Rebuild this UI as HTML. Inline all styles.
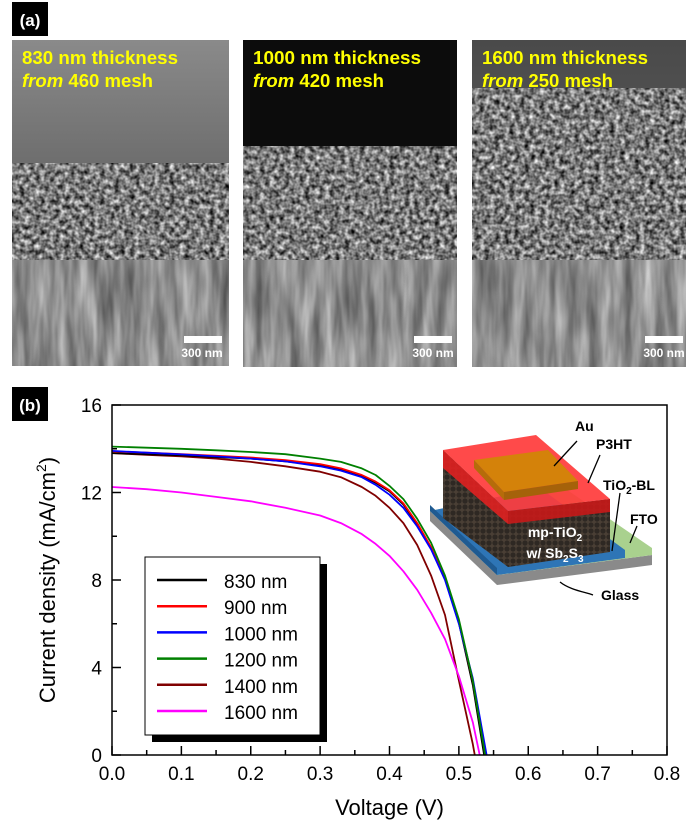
<!DOCTYPE html>
<html><head><meta charset="utf-8">
<style>
html,body{margin:0;padding:0;background:#fff;}
body{width:700px;height:840px;position:relative;overflow:hidden;font-family:"Liberation Sans",Arial,sans-serif;}
svg{position:absolute;left:0;top:0;}
</style></head>
<body>
<svg width="700" height="840" viewBox="0 0 700 840">
<defs>
  <filter id="grain" x="0" y="0" width="100%" height="100%" color-interpolation-filters="sRGB">
    <feTurbulence type="fractalNoise" baseFrequency="0.2" numOctaves="2" seed="3"/>
    <feColorMatrix type="matrix" values="1.3 0 0 0 -0.17  1.3 0 0 0 -0.17  1.3 0 0 0 -0.17  0 0 0 0 1"/>
  </filter>
  <filter id="streak" x="0" y="0" width="100%" height="100%" color-interpolation-filters="sRGB">
    <feTurbulence type="fractalNoise" baseFrequency="0.09 0.012" numOctaves="3" seed="7"/>
    <feColorMatrix type="matrix" values="0.6 0 0 0 0.25  0.6 0 0 0 0.25  0.6 0 0 0 0.25  0 0 0 0 1"/>
  </filter>
  <linearGradient id="sky1" x1="0" y1="0" x2="0" y2="1"><stop offset="0" stop-color="#8a8a8a"/><stop offset="1" stop-color="#404040"/></linearGradient>
  <linearGradient id="sky3" x1="0" y1="0" x2="0" y2="1"><stop offset="0" stop-color="#4a4a4a"/><stop offset="1" stop-color="#6a6a6a"/></linearGradient>
  <clipPath id="cp1"><rect x="12" y="40" width="217" height="326"/></clipPath>
  <clipPath id="cp2"><rect x="243" y="40" width="214" height="327"/></clipPath>
  <clipPath id="cp3"><rect x="472" y="40" width="214" height="327"/></clipPath>
  <pattern id="dots" width="6" height="6" patternUnits="userSpaceOnUse"><rect width="6" height="6" fill="#4a3f35"/><circle cx="3" cy="3" r="2.6" fill="#2e2823"/></pattern>
</defs>

<rect x="12" y="2" width="36" height="34" fill="#000"/>
<text x="30" y="26" fill="#fff" font-size="17" font-weight="bold" text-anchor="middle">(a)</text>

<g clip-path="url(#cp1)">
  <rect x="12" y="40" width="217" height="326" fill="url(#sky1)"/>
  <rect x="12" y="163" width="217" height="98" fill="#777" filter="url(#grain)"/>
  <rect x="12" y="260" width="217" height="106" fill="#888" filter="url(#streak)"/>
</g>
<g clip-path="url(#cp2)">
  <rect x="243" y="40" width="214" height="327" fill="#0c0c0c"/>
  <rect x="243" y="146" width="214" height="115" fill="#777" filter="url(#grain)"/>
  <rect x="243" y="260" width="214" height="107" fill="#888" filter="url(#streak)"/>
</g>
<g clip-path="url(#cp3)">
  <rect x="472" y="40" width="214" height="327" fill="url(#sky3)"/>
  <rect x="472" y="88" width="214" height="173" fill="#777" filter="url(#grain)"/>
  <rect x="472" y="260" width="214" height="107" fill="#888" filter="url(#streak)"/>
</g>

<g font-weight="bold" font-size="18" fill="#ffff00">
  <text x="22" y="64" textLength="156" lengthAdjust="spacingAndGlyphs">830 nm thickness</text>
  <text x="22" y="87" textLength="131" lengthAdjust="spacingAndGlyphs"><tspan font-style="italic">from</tspan> 460 mesh</text>
  <text x="253" y="64" textLength="168" lengthAdjust="spacingAndGlyphs">1000 nm thickness</text>
  <text x="253" y="87" textLength="131" lengthAdjust="spacingAndGlyphs"><tspan font-style="italic">from</tspan> 420 mesh</text>
  <text x="482" y="64" textLength="166" lengthAdjust="spacingAndGlyphs">1600 nm thickness</text>
  <text x="482" y="87" textLength="131" lengthAdjust="spacingAndGlyphs"><tspan font-style="italic">from</tspan> 250 mesh</text>
</g>
<g fill="#fff" font-size="12" font-weight="bold">
  <rect x="184" y="336" width="38" height="7"/><text x="202" y="357" text-anchor="middle">300 nm</text>
  <rect x="414" y="336" width="38" height="7"/><text x="433" y="357" text-anchor="middle">300 nm</text>
  <rect x="645" y="336" width="38" height="7"/><text x="664" y="357" text-anchor="middle">300 nm</text>
</g>

<rect x="12" y="387" width="36" height="34" fill="#000"/>
<text x="30" y="411" fill="#fff" font-size="17" font-weight="bold" text-anchor="middle">(b)</text>

<g id="chart"></g>

<g>
  <polygon points="430,521 497,585 652,565 652,555 497,575 430,511" fill="#8a8a8a"/>
  <polygon points="430,511 560,485 652,548 652,555 497,575" fill="#a9d18e"/>
  <polygon points="430,511 540,488 625,550 625,558 520,572 497,575" fill="#2e75b6"/>
  <polygon points="430,511 497,575 497,568 430,505" fill="#1f5a91"/>
  <polygon points="443,450 443,518 508,567 508,511" fill="url(#dots)"/>
  <polygon points="508,511 508,567 610,552 610,499" fill="url(#dots)"/>
  <polygon points="443,450 443,468 508,524 508,511" fill="#e02020" opacity="0.9"/>
  <polygon points="508,511 508,524 610,512 610,499" fill="#c81818" opacity="0.9"/>
  <polygon points="443,450 536,435 610,499 508,511" fill="#ff3b3b" opacity="0.92"/>
  <polygon points="474,460 548,450 578,481 504,492" fill="#d4820a"/>
  <polygon points="504,492 578,481 578,489 504,500" fill="#a5620a"/>
  <polygon points="474,460 504,492 504,500 474,468" fill="#b56c0a"/>
  <g fill="#fff" font-weight="bold" font-size="14" text-anchor="middle">
    <text x="555" y="537">mp-TiO<tspan font-size="10" dy="4">2</tspan></text>
    <text x="555" y="558">w/ Sb<tspan font-size="10" dy="4">2</tspan><tspan dy="-4">S</tspan><tspan font-size="10" dy="4">3</tspan></text>
  </g>
  <g stroke="#000" stroke-width="1.3" fill="none">
    <path d="M554,466 L577,441"/><path d="M588,483 L600,455"/><path d="M612,551 L620,493"/><path d="M630,543 L637,526"/><path d="M560,582 C570,590 585,592 593,595"/>
  </g>
  <g font-weight="bold" font-size="14" fill="#000">
    <text x="575" y="431">Au</text>
    <text x="596" y="449">P3HT</text>
    <text x="603" y="490">TiO<tspan font-size="10" dy="4">2</tspan><tspan dy="-4">-BL</tspan></text>
    <text x="630" y="524">FTO</text>
    <text x="601" y="600">Glass</text>
  </g>
</g>
</svg>

<script>
const xTicks=[0,0.1,0.2,0.3,0.4,0.5,0.6,0.7,0.8];
const yTicks=[0,4,8,12,16];
const seriesNames=["830 nm","900 nm","1000 nm","1200 nm","1400 nm","1600 nm"];
const seriesColors=["#000000","#ff0000","#0000ff","#008000","#800000","#ff00ff"];
const voltage=[0,0.05,0.1,0.15,0.2,0.25,0.3,0.33,0.36,0.38,0.4,0.42,0.44,0.46,0.48,0.5,0.52,0.54];
const j830=[13.8,13.75,13.7,13.62,13.55,13.42,13.25,13.05,12.75,12.45,12.05,11.45,10.55,9.45,8.05,6.05,3.2,-0.7];
const j900=[13.88,13.82,13.75,13.68,13.6,13.48,13.3,13.1,12.8,12.5,12.1,11.5,10.6,9.5,8.1,6.1,3.4,-0.3];
const j1000=[13.9,13.82,13.74,13.65,13.55,13.42,13.2,13.0,12.7,12.35,11.9,11.3,10.45,9.4,8.0,6.0,3.5,0];
const j1200=[14.1,14.05,14.0,13.93,13.85,13.75,13.55,13.4,13.1,12.8,12.3,11.7,10.8,9.7,8.2,6.2,3.4,-0.4];
const j1400=[13.8,13.72,13.65,13.55,13.4,13.2,12.95,12.7,12.25,11.85,11.3,10.6,9.6,8.2,6.4,3.4,0.5,-3];
const j1600=[12.25,12.15,12.0,11.8,11.6,11.3,10.95,10.6,10.1,9.65,9.1,8.4,7.55,6.5,5.3,3.6,1.5,-1.5];
const seriesData=[j830,j900,j1000,j1200,j1400,j1600];

const L=112,R=667,T=405,B=755;
const xs=v=>L+(v-0)/(0.8-0)*(R-L);
const ys=j=>B-(j-0)/(16-0)*(B-T);
const NS="http://www.w3.org/2000/svg";
const g=document.getElementById('chart');
function mk(tag,attrs,parent){const e=document.createElementNS(NS,tag);for(const k in attrs)e.setAttribute(k,attrs[k]);(parent||g).appendChild(e);return e;}

const defs=mk('defs',{});
const cp=mk('clipPath',{id:'plotclip'},defs);
mk('rect',{x:L,y:T,width:R-L,height:B-T},cp);

const lg=mk('g',{'clip-path':'url(#plotclip)'});


const order=[4,5,0,1,2,3];
order.forEach(i=>{
  const d=voltage.map((v,k)=>(k?'L':'M')+xs(v).toFixed(1)+','+ys(seriesData[i][k]).toFixed(1)).join(' ');
  const p=mk('path',{d:d,fill:'none',stroke:seriesColors[i],'stroke-width':1.8,'stroke-linejoin':'round'},lg);
  
  
});

const fr=mk('rect',{x:L,y:T,width:R-L,height:B-T,fill:'none',stroke:'#000','stroke-width':1.5});



xTicks.forEach((v,i)=>{
  const x=xs(v);
  mk('line',{x1:x,y1:B,x2:x,y2:B-9,stroke:'#000','stroke-width':1.5});
  if(i<xTicks.length-1){const xm=xs(v+0.05);mk('line',{x1:xm,y1:B,x2:xm,y2:B-5,stroke:'#000','stroke-width':1.5});}
  const t=mk('text',{x:x,y:B+25,'font-size':19,'text-anchor':'middle',fill:'#000'});
  t.textContent=v.toFixed(1);
  
  
});
yTicks.forEach((v,i)=>{
  const y=ys(v);
  mk('line',{x1:L,y1:y,x2:L+9,y2:y,stroke:'#000','stroke-width':1.5});
  if(i<yTicks.length-1){const ym=ys(v+2);mk('line',{x1:L,y1:ym,x2:L+5,y2:ym,stroke:'#000','stroke-width':1.5});}
  const t=mk('text',{x:L-10,y:y+7,'font-size':19,'text-anchor':'end',fill:'#000'});
  t.textContent=v;
  
  
});
const xt=mk('text',{x:(L+R)/2,y:815,'font-size':22,'text-anchor':'middle',fill:'#000'});
xt.textContent='Voltage (V)';


const yt=mk('text',{x:0,y:0,'font-size':22,'text-anchor':'middle',fill:'#000',transform:'translate(55,580) rotate(-90)'});
yt.innerHTML='Current density (mA/cm<tspan font-size="14" dy="-9">2</tspan><tspan dy="9">)</tspan>';



const leg=mk('g',{});


mk('rect',{x:152,y:564,width:175,height:178,fill:'#000'},leg);
mk('rect',{x:145,y:557,width:175,height:178,fill:'#fff',stroke:'#000','stroke-width':1},leg);
seriesNames.forEach((n,i)=>{
  const y=580+i*26.2;
  const e=mk('g',{},leg);
  
  
  mk('line',{x1:157,y1:y,x2:207,y2:y,stroke:seriesColors[i],'stroke-width':2.5},e);
  const t=mk('text',{x:224,y:y+8,'font-size':19,fill:'#000'},e);
  t.textContent=n;
});
</script>
</body></html>
